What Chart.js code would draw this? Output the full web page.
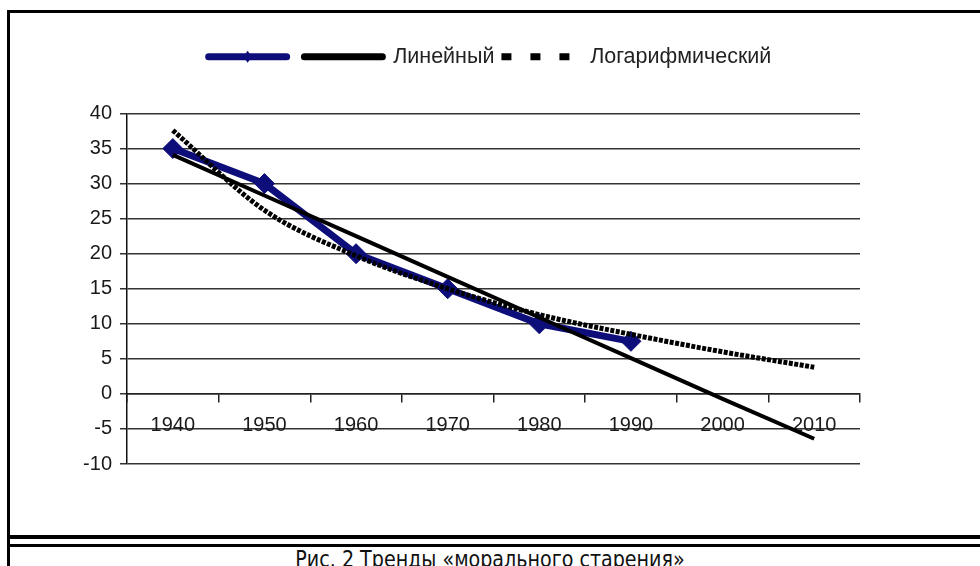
<!doctype html>
<html>
<head>
<meta charset="utf-8">
<title>Тренды морального старения</title>
<script src="https://cdn.jsdelivr.net/npm/chart.js@4.4.0/dist/chart.umd.min.js"></script>
<style>
	body {
		margin: 0;
		background: #fff;
		width: 980px;
		height: 566px;
		overflow: hidden;
		position: relative;
	}

	#frame {
		position: absolute;
		left: 7px;
		top: 10px;
		width: 1000px;
		height: 600px;
		border-top: 3px solid #000;
		border-left: 3px solid #000;
	}

	.rule {
		position: absolute;
		left: 7px;
		width: 980px;
		background: #000;
	}

	#container {
		position: absolute;
		left: 0;
		top: 0;
		width: 980px;
		height: 530px;
	}

	#caption {
		position: absolute;
		left: 0;
		top: 546px;
		width: 980px;
		text-align: center;
		font-family: "DejaVu Sans", Verdana, sans-serif;
		font-size: 23px;
		line-height: 26px;
		color: #111;
		white-space: nowrap;
		transform: scaleX(0.83);
	}
</style>
</head>

<body>
<div id="frame"></div>
<div class="rule" style="top:535px;height:4px"></div>
<div class="rule" style="top:544px;height:3px"></div>
<div id="container">
	<canvas id="canvas"></canvas>
</div>
<div id="caption">Рис. 2 Тренды «морального старения»</div>
<script>

	var years = ["1940", "1950", "1960", "1970", "1980", "1990", "2000", "2010"];
	var actual = [35, 30, 20, 15, 10, 7.5, null, null];
	var linearTrend = [34.1, 28.3, 22.5, 16.7, 10.9, 5.1, -0.7, -6.4];
	var logTrend = [37.6, 26.2, 19.7, 15.0, 11.3, 8.5, 6.0, 3.8];
	var seriesNames = ["", "Линейный", "Логарифмический"];

	var tickFont = { family: "'Liberation Sans', Arial, sans-serif", size: 20 };
	var legendFont = { family: "'Liberation Sans', Arial, sans-serif", size: 21.5 };

	// legend line looks for each series
	var legendLook = [
		{ width: 7, cap: "round", dash: [] },
		{ width: 7, cap: "round", dash: [] },
		{ width: 7, cap: "butt", dash: [10, 19] }
	];

	// push the plot down below the legend
	var legendGap = {
		id: "legendGap",
		beforeLayout: function(chart) {
			var legend = chart.legend;
			if (!legend || legend._gapDone) return;
			var fit = legend.fit;
			legend.fit = function() {
				fit.call(this);
				this.height += 36;
			};
			legend._gapDone = true;
		}
	};

	// small diamond on the first legend line
	var legendMarker = {
		id: "legendMarker",
		afterDraw: function(chart) {
			var legend = chart.legend;
			if (!legend || !legend.legendHitBoxes.length) return;
			var hb = legend.legendHitBoxes[0];
			var cx = hb.left + legend.options.labels.pointStyleWidth / 2;
			var cy = hb.top + legendFont.size / 2;
			var r = 6;
			var ctx = chart.ctx;
			ctx.save();
			ctx.fillStyle = "#0e0e7a";
			ctx.beginPath();
			ctx.moveTo(cx, cy - r);
			ctx.lineTo(cx + r * 0.7, cy);
			ctx.lineTo(cx, cy + r);
			ctx.lineTo(cx - r * 0.7, cy);
			ctx.closePath();
			ctx.fill();
			ctx.restore();
		}
	};

	var ctx = document.getElementById("canvas").getContext("2d");
	window.trendChart = new Chart(ctx, {
		type: "line",
		data: {
			labels: years,
			datasets: [{
				label: seriesNames[0],
				data: actual,
				borderColor: "#0e0e7a",
				backgroundColor: "#0e0e7a",
				borderWidth: 7,
				pointStyle: "rectRot",
				pointRadius: 10,
				pointBorderWidth: 1,
				order: 3
			}, {
				label: seriesNames[1],
				data: linearTrend,
				borderColor: "#000",
				backgroundColor: "#000",
				borderWidth: 4,
				pointRadius: 0,
				order: 2
			}, {
				label: seriesNames[2],
				data: logTrend,
				borderColor: "#000",
				backgroundColor: "#000",
				borderWidth: 5,
				borderDash: [4, 1.5],
				cubicInterpolationMode: "monotone",
				pointRadius: 0,
				order: 1
			}]
		},
		plugins: [legendGap, legendMarker],
		options: {
			responsive: true,
			maintainAspectRatio: false,
			animation: false,
			layout: {
				padding: { left: 63, right: 63, top: 39, bottom: 66 }
			},
			plugins: {
				legend: {
					position: "top",
					labels: {
						usePointStyle: true,
						pointStyleWidth: 78,
						padding: 7,
						color: "#222",
						font: legendFont,
						generateLabels: function(chart) {
							return chart.data.datasets.map(function(ds, i) {
								return {
									text: ds.label,
									fillStyle: ds.borderColor,
									strokeStyle: ds.borderColor,
									lineWidth: legendLook[i].width,
									lineCap: legendLook[i].cap,
									lineDash: legendLook[i].dash,
									pointStyle: "line",
									fontColor: "#222",
									hidden: false,
									datasetIndex: i
								};
							});
						}
					}
				},
				tooltip: { enabled: false }
			},
			scales: {
				x: {
					type: "category",
					position: { y: 0 },
					offset: true,
					grid: {
						offset: true,
						drawOnChartArea: false,
						tickLength: 8,
						color: "#222",
						lineWidth: 1.5
					},
					border: { color: "#222", width: 1.5 },
					ticks: {
						font: tickFont,
						color: "#1a1a1a",
						padding: 12,
						maxRotation: 0,
						autoSkip: false
					}
				},
				y: {
					min: -10,
					max: 40,
					ticks: {
						stepSize: 5,
						font: tickFont,
						color: "#1a1a1a",
						padding: 8
					},
					grid: {
						color: "#333",
						lineWidth: 1.5,
						tickLength: 7
					},
					border: { color: "#111", width: 1.5 },
					afterFit: function(scale) {
						scale.width = 64;
					}
				},
				// empty right-hand axis, only keeps the plot narrower than the legend band
				yRight: {
					position: "right",
					display: true,
					grid: { display: false },
					border: { display: false },
					ticks: { display: false },
					afterFit: function(scale) {
						scale.width = 57;
					}
				}
			}
		}
	});

</script>
</body>

</html>
